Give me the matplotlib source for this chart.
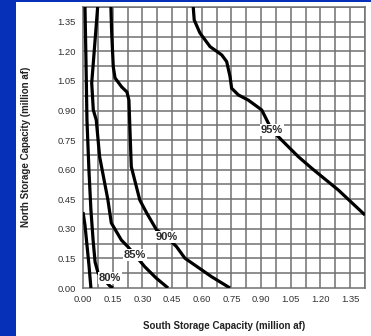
"""
Storage capacity reliability contours (north vs south storage)
"""

import numpy as np
import matplotlib.pyplot as plt
from matplotlib.patches import Rectangle

plt.rcParams['font.family'] = ['Liberation Sans', 'DejaVu Sans']

# contour lines (million af)
s_x = [0.000, 0.010, 0.020, 0.030, 0.040]
s_y = [0.385, 0.319, 0.218, 0.117, 0.000]

c80_x = [0.010, 0.015, 0.020, 0.030, 0.040, 0.051, 0.061, 0.076, 0.136, 0.152]
c80_y = [1.425, 1.156, 0.852, 0.598, 0.396, 0.243, 0.132, 0.076, 0.010, 0.000]

c85_x = [0.074, 0.069, 0.052, 0.044, 0.052, 0.067, 0.084, 0.126, 0.143,
         0.194, 0.227, 0.263, 0.312, 0.369, 0.430]
c85_y = [1.425, 1.359, 1.141, 1.040, 0.903, 0.852, 0.666, 0.446, 0.330,
         0.243, 0.209, 0.167, 0.108, 0.051, 0.000]

c90_x = [0.141, 0.145, 0.153, 0.162, 0.196, 0.222, 0.232, 0.236, 0.244,
         0.287, 0.322, 0.372, 0.423, 0.473, 0.515, 0.650, 0.743]
c90_y = [1.425, 1.293, 1.121, 1.065, 1.019, 0.994, 0.953, 0.837, 0.615,
         0.446, 0.380, 0.294, 0.260, 0.209, 0.151, 0.057, 0.000]

c95_x = [0.557, 0.562, 0.591, 0.642, 0.701, 0.726, 0.743, 0.751, 0.785,
         0.835, 0.903, 0.954, 1.004, 1.088, 1.156, 1.290, 1.425]
c95_y = [1.425, 1.359, 1.293, 1.224, 1.182, 1.148, 1.072, 1.013, 0.979,
         0.953, 0.903, 0.801, 0.750, 0.666, 0.607, 0.497, 0.370]

labels = ['80%', '85%', '90%', '95%']
label_x = [0.136, 0.263, 0.423, 0.954]
label_y = [0.051, 0.167, 0.260, 0.801]

ticks = np.arange(0, 1.36, 0.15)
grid_step = 0.075
lim = 1.425

fig = plt.figure(figsize=(3.71, 3.36), dpi=100)
fig.patch.set_facecolor('white')

# blue slide frame
blue = '#0730b8'
fig.patches.append(Rectangle((0, 0), 16 / 371, 1, transform=fig.transFigure,
                             facecolor=blue, edgecolor='none', zorder=0))
fig.patches.append(Rectangle((0, 1 - 2 / 336), 1, 2 / 336, transform=fig.transFigure,
                             facecolor=blue, edgecolor='none', zorder=0))

ax = fig.add_axes([83 / 371, 48 / 336, 282 / 371, 281 / 336])
ax.set_xlim(0, lim)
ax.set_ylim(0, lim)

# fine grid every 0.075 drawn as plain lines
for g in np.arange(grid_step, lim, grid_step):
    ax.axvline(g, color='#707070', linewidth=1.1, zorder=1)
    ax.axhline(g, color='#707070', linewidth=1.1, zorder=1)

ax.set_xticks(ticks)
ax.set_yticks(ticks)
ax.set_xticklabels([f'{t:.2f}' for t in ticks])
ax.set_yticklabels([f'{t:.2f}' for t in ticks])
ax.tick_params(which='both', length=0, labelsize=6.8, colors='#333333', pad=5)
for sp in ax.spines.values():
    sp.set_color('#707070')
    sp.set_linewidth(1.1)

for xs, ys in [(s_x, s_y), (c80_x, c80_y), (c85_x, c85_y), (c90_x, c90_y), (c95_x, c95_y)]:
    ax.plot(xs, ys, color='black', linewidth=2.3, solid_capstyle='butt',
            solid_joinstyle='round', zorder=3, clip_on=True)

for lab, lx, ly in zip(labels, label_x, label_y):
    ax.text(lx, ly, lab, ha='center', va='center', fontsize=8, fontweight='bold',
            color='#2a2a2a', zorder=4,
            bbox=dict(facecolor='white', edgecolor='none', pad=0.6))

fig.text(224 / 371, 1 - 326 / 336, 'South Storage Capacity (million af)',
         ha='center', va='center', fontsize=7, fontweight='bold', color='#222222')
fig.text(26 / 371, 1 - 147 / 336, 'North Storage Capacity (million af)',
         ha='center', va='center', rotation=90, fontsize=7, fontweight='bold',
         color='#222222')

fig.savefig('out.png', dpi=100)
